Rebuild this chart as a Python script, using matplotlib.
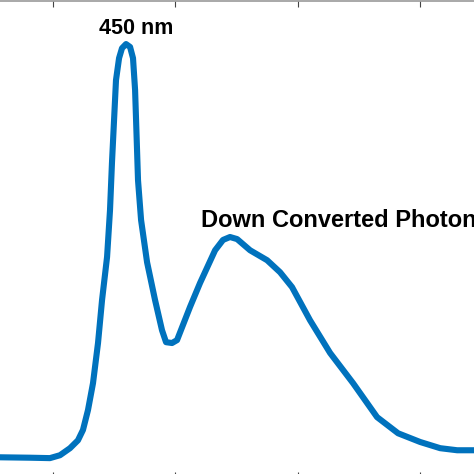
import numpy as np
import matplotlib
matplotlib.use("Agg")
import matplotlib.pyplot as plt

# Emission spectrum (wavelength in nm, normalised intensity)
wavelength = [340.0, 356.7, 381.2, 397.5, 405.7, 413.9, 420.4, 424.5, 428.6, 432.7,
              436.8, 440.1, 444.2, 446.6, 448.2, 449.9, 451.5, 454.0, 456.4, 459.7,
              463.0, 465.4, 467.1, 468.7, 469.5, 472.0, 476.9, 483.4, 489.1, 492.4,
              497.3, 501.4, 512.0, 520.2, 532.5, 539.0, 544.7, 550.5, 561.1, 575.0,
              585.6, 595.4, 610.1, 626.5, 645.3, 664.9, 682.1, 700.1, 716.5, 730.4,
              744.3, 760.0]
intensity = [0.002, 0.002, 0.001, 0.000, 0.007, 0.024, 0.043, 0.068, 0.116, 0.181,
             0.278, 0.382, 0.486, 0.599, 0.713, 0.816, 0.913, 0.966, 0.990, 1.000,
             0.993, 0.966, 0.889, 0.744, 0.671, 0.575, 0.473, 0.382, 0.309, 0.280,
             0.278, 0.285, 0.365, 0.423, 0.502, 0.527, 0.534, 0.529, 0.502, 0.478,
             0.449, 0.413, 0.333, 0.254, 0.181, 0.099, 0.060, 0.039, 0.024, 0.019,
             0.019, 0.019]
xticks = [400, 500, 600, 700]

fig = plt.figure(figsize=(4.74, 4.74), dpi=100)
# axes frame runs past the left, right and bottom edges of the picture
ax = fig.add_axes([-20.4 / 474, -4 / 474, 513.8 / 474, 477 / 474])
ax.plot(wavelength, intensity, color='#0072BD', lw=4.4,
        solid_capstyle='round', solid_joinstyle='round')

ax.set_xlim(340, 760)
ax.set_ylim(-0.048, 1.104)
ax.set_xticks(xticks)
ax.set_yticks([])
ax.tick_params(axis='x', direction='in', top=True, bottom=True, length=4.5,
               width=0.8, color='#444444', labelbottom=False)
for s in ax.spines.values():
    s.set_color('#999999')
    s.set_linewidth(1.2)

ax.text(437.6, 1.024, '450 nm', ha='left', va='baseline', fontsize=15.5,
        fontweight='bold', family='Liberation Sans')
ax.text(521.0, 0.558, 'Down Converted Photon', ha='left', va='baseline',
        fontsize=17.0, fontweight='bold', family='Liberation Sans')

fig.savefig('out.png', dpi=100)
